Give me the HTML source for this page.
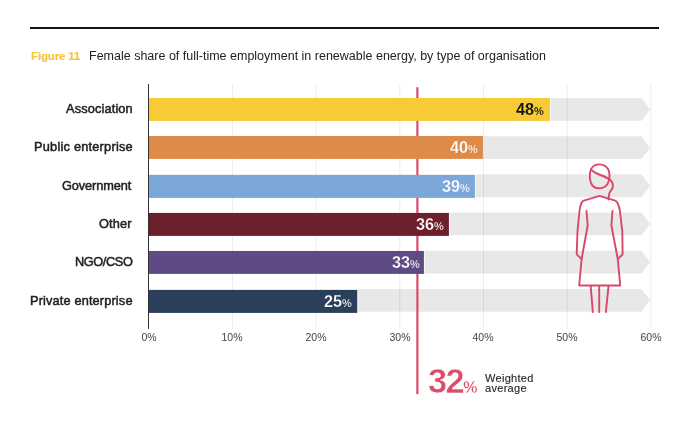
<!DOCTYPE html>
<html><head><meta charset="utf-8"><style>
html,body{margin:0;padding:0;background:#fff;}
body{width:690px;height:445px;position:relative;overflow:hidden;font-family:"Liberation Sans",sans-serif;}
.a{position:absolute;white-space:nowrap;line-height:1;will-change:transform;}
.lab{font-size:12.75px;color:#222;-webkit-text-stroke:0.5px #222;letter-spacing:0.15px;text-align:right;}
.xl{font-size:10.5px;color:#444;text-align:center;width:40px;}
.val{font-weight:bold;font-size:16.2px;text-align:right;}
.val span{font-size:11px;}
</style></head><body>

<div class="a" style="left:30px;top:27px;width:629px;height:2px;background:#111;"></div>
<div class="a" style="left:30.7px;top:50.08px;font-size:11.6px;letter-spacing:-0.2px;font-weight:bold;color:#F5C437;-webkit-text-stroke:0.1px #F5C437;">Figure 11</div>
<div class="a" style="left:89px;top:50.32px;font-size:12.5px;color:#222;">Female share of full-time employment in renewable energy, by type of organisation</div>
<svg class="a" style="left:0;top:0" width="690" height="445" viewBox="0 0 690 445"><polygon points="148,98.00 641.5,98.00 650.1,109.40 641.5,120.80 148,120.80" fill="#E8E8E8"/>
<polygon points="148,136.18 641.5,136.18 650.1,147.58 641.5,158.98 148,158.98" fill="#E8E8E8"/>
<polygon points="148,174.36 641.5,174.36 650.1,185.76 641.5,197.16 148,197.16" fill="#E8E8E8"/>
<polygon points="148,212.54 641.5,212.54 650.1,223.94 641.5,235.34 148,235.34" fill="#E8E8E8"/>
<polygon points="148,250.72 641.5,250.72 650.1,262.12 641.5,273.52 148,273.52" fill="#E8E8E8"/>
<polygon points="148,288.90 641.5,288.90 650.1,300.30 641.5,311.70 148,311.70" fill="#E8E8E8"/>
<rect x="549.90" y="96.50" width="1" height="25.9" fill="#FFFFFF" fill-opacity="0.6"/>
<rect x="482.90" y="134.50" width="1" height="25.9" fill="#FFFFFF" fill-opacity="0.6"/>
<rect x="474.90" y="173.50" width="1" height="25.9" fill="#FFFFFF" fill-opacity="0.6"/>
<rect x="448.90" y="211.50" width="1" height="25.9" fill="#FFFFFF" fill-opacity="0.6"/>
<rect x="423.90" y="249.50" width="1" height="25.9" fill="#FFFFFF" fill-opacity="0.6"/>
<rect x="357.20" y="288.50" width="1" height="25.9" fill="#FFFFFF" fill-opacity="0.6"/>
<rect x="231.97" y="84" width="1" height="245" fill="#000" fill-opacity="0.075"/>
<rect x="315.64" y="84" width="1" height="245" fill="#000" fill-opacity="0.075"/>
<rect x="399.31" y="84" width="1" height="245" fill="#000" fill-opacity="0.075"/>
<rect x="482.98" y="84" width="1" height="245" fill="#000" fill-opacity="0.075"/>
<rect x="566.65" y="84" width="1" height="245" fill="#000" fill-opacity="0.075"/>
<rect x="650.32" y="84" width="1" height="245" fill="#000" fill-opacity="0.075"/>
<rect x="416.3" y="87.2" width="2.2" height="307" fill="#DA4C6A"/>
<rect x="148" y="98.00" width="401.90" height="22.9" fill="#F6CB36"/>
<rect x="148" y="136.00" width="334.90" height="22.9" fill="#DE8B4A"/>
<rect x="148" y="175.00" width="326.90" height="22.9" fill="#7BA7D9"/>
<rect x="148" y="213.00" width="300.90" height="22.9" fill="#6D1F2B"/>
<rect x="148" y="251.00" width="275.90" height="22.9" fill="#604A86"/>
<rect x="148" y="290.00" width="209.20" height="22.9" fill="#2A3F5C"/>
<rect x="148" y="84" width="1" height="245" fill="#333333"/>
<g fill="none" stroke="#D9486A" stroke-width="1.9" stroke-linejoin="round" stroke-linecap="round">
<path d="M598.8,164.4 C603.5,164.4 607.5,167 608.9,171 C610,175 609.5,180 607.5,184 C605.5,187 602.5,188.3 598.8,188.3 C595,188.3 592.5,186.5 591.2,183.5 C589.8,180 589.6,175 590.3,171.5 C591.5,167 594.5,164.4 598.8,164.4 Z"/>
<path d="M590.9,169.4 C592.5,171.5 595,172.8 598,174 C602,175.5 606,177 609,179 C612,181 613.3,184 612.8,187 C612.3,189.5 610,191 609.3,193.5 C608.8,195.5 608.6,197.5 608.5,199.5"/>
<path d="M581.4,203.2 C581.8,202 582.5,201.2 583.8,200.6 L599.5,195.9 L615.2,200.6 C616.5,201.2 617.2,202 617.6,203.2 C618.8,205.5 619.6,208 619.9,211 L622.3,231.3 L622.6,254.3 L617.8,259.2"/>
<path d="M581.4,203.2 C580.2,205.5 579.8,208 579.5,211 L577.5,231.3 L576.7,254.3 L581.6,259.2"/>
<path d="M586.5,210.9 L587.7,225.5 L581.6,259.2 L579.2,285.5 L620.2,285.5 L617.8,259.2 L611.4,225.5 L612.5,210.9"/>
<path d="M590.7,286.2 L592.8,312"/>
<path d="M599.2,286.2 L599.2,312"/>
<path d="M608.5,286.2 L605.9,312"/>
</g></svg>
<div class="a lab" style="right:556.70px;top:102.56px;letter-spacing:0.15px;">Association</div>
<div class="a val" style="right:145.90px;top:100.74px;color:#111111;-webkit-text-stroke:0.1px #F6CB36;">48<span>%</span></div>
<div class="a lab" style="right:557.08px;top:140.56px;letter-spacing:0.23px;">Public enterprise</div>
<div class="a val" style="right:212.70px;top:138.74px;color:#ffffff;-webkit-text-stroke:0.25px #DE8B4A;">40<span>%</span></div>
<div class="a lab" style="right:558.65px;top:179.56px;letter-spacing:-0.10px;">Government</div>
<div class="a val" style="right:220.70px;top:177.74px;color:#ffffff;-webkit-text-stroke:0.25px #7BA7D9;">39<span>%</span></div>
<div class="a lab" style="right:558.20px;top:217.56px;letter-spacing:0.15px;">Other</div>
<div class="a val" style="right:246.70px;top:215.74px;color:#ffffff;-webkit-text-stroke:0.25px #6D1F2B;">36<span>%</span></div>
<div class="a lab" style="right:557.95px;top:255.56px;letter-spacing:-0.40px;">NGO/CSO</div>
<div class="a val" style="right:270.40px;top:253.74px;color:#ffffff;-webkit-text-stroke:0.25px #604A86;">33<span>%</span></div>
<div class="a lab" style="right:557.10px;top:294.56px;letter-spacing:0.15px;">Private enterprise</div>
<div class="a val" style="right:338.30px;top:292.74px;color:#ffffff;-webkit-text-stroke:0.25px #2A3F5C;">25<span>%</span></div>
<div class="a xl" style="left:128.70px;top:332.01px;">0%</div>
<div class="a xl" style="left:212.37px;top:332.01px;">10%</div>
<div class="a xl" style="left:296.04px;top:332.01px;">20%</div>
<div class="a xl" style="left:379.71px;top:332.01px;">30%</div>
<div class="a xl" style="left:463.38px;top:332.01px;">40%</div>
<div class="a xl" style="left:547.05px;top:332.01px;">50%</div>
<div class="a xl" style="left:630.72px;top:332.01px;">60%</div>
<div class="a" style="left:428px;top:363.80px;font-size:34.5px;letter-spacing:-1.6px;font-weight:bold;color:#DA4C6A;-webkit-text-stroke:0.5px #fff;">32<span style="font-size:16px;letter-spacing:0;-webkit-text-stroke:0.3px #fff">%</span></div>
<div class="a" style="left:485px;top:373.09px;font-size:11px;line-height:10.3px;letter-spacing:0.3px;color:#2a2a2a;-webkit-text-stroke:0.15px #2a2a2a;">Weighted<br>average</div>
</body></html>
